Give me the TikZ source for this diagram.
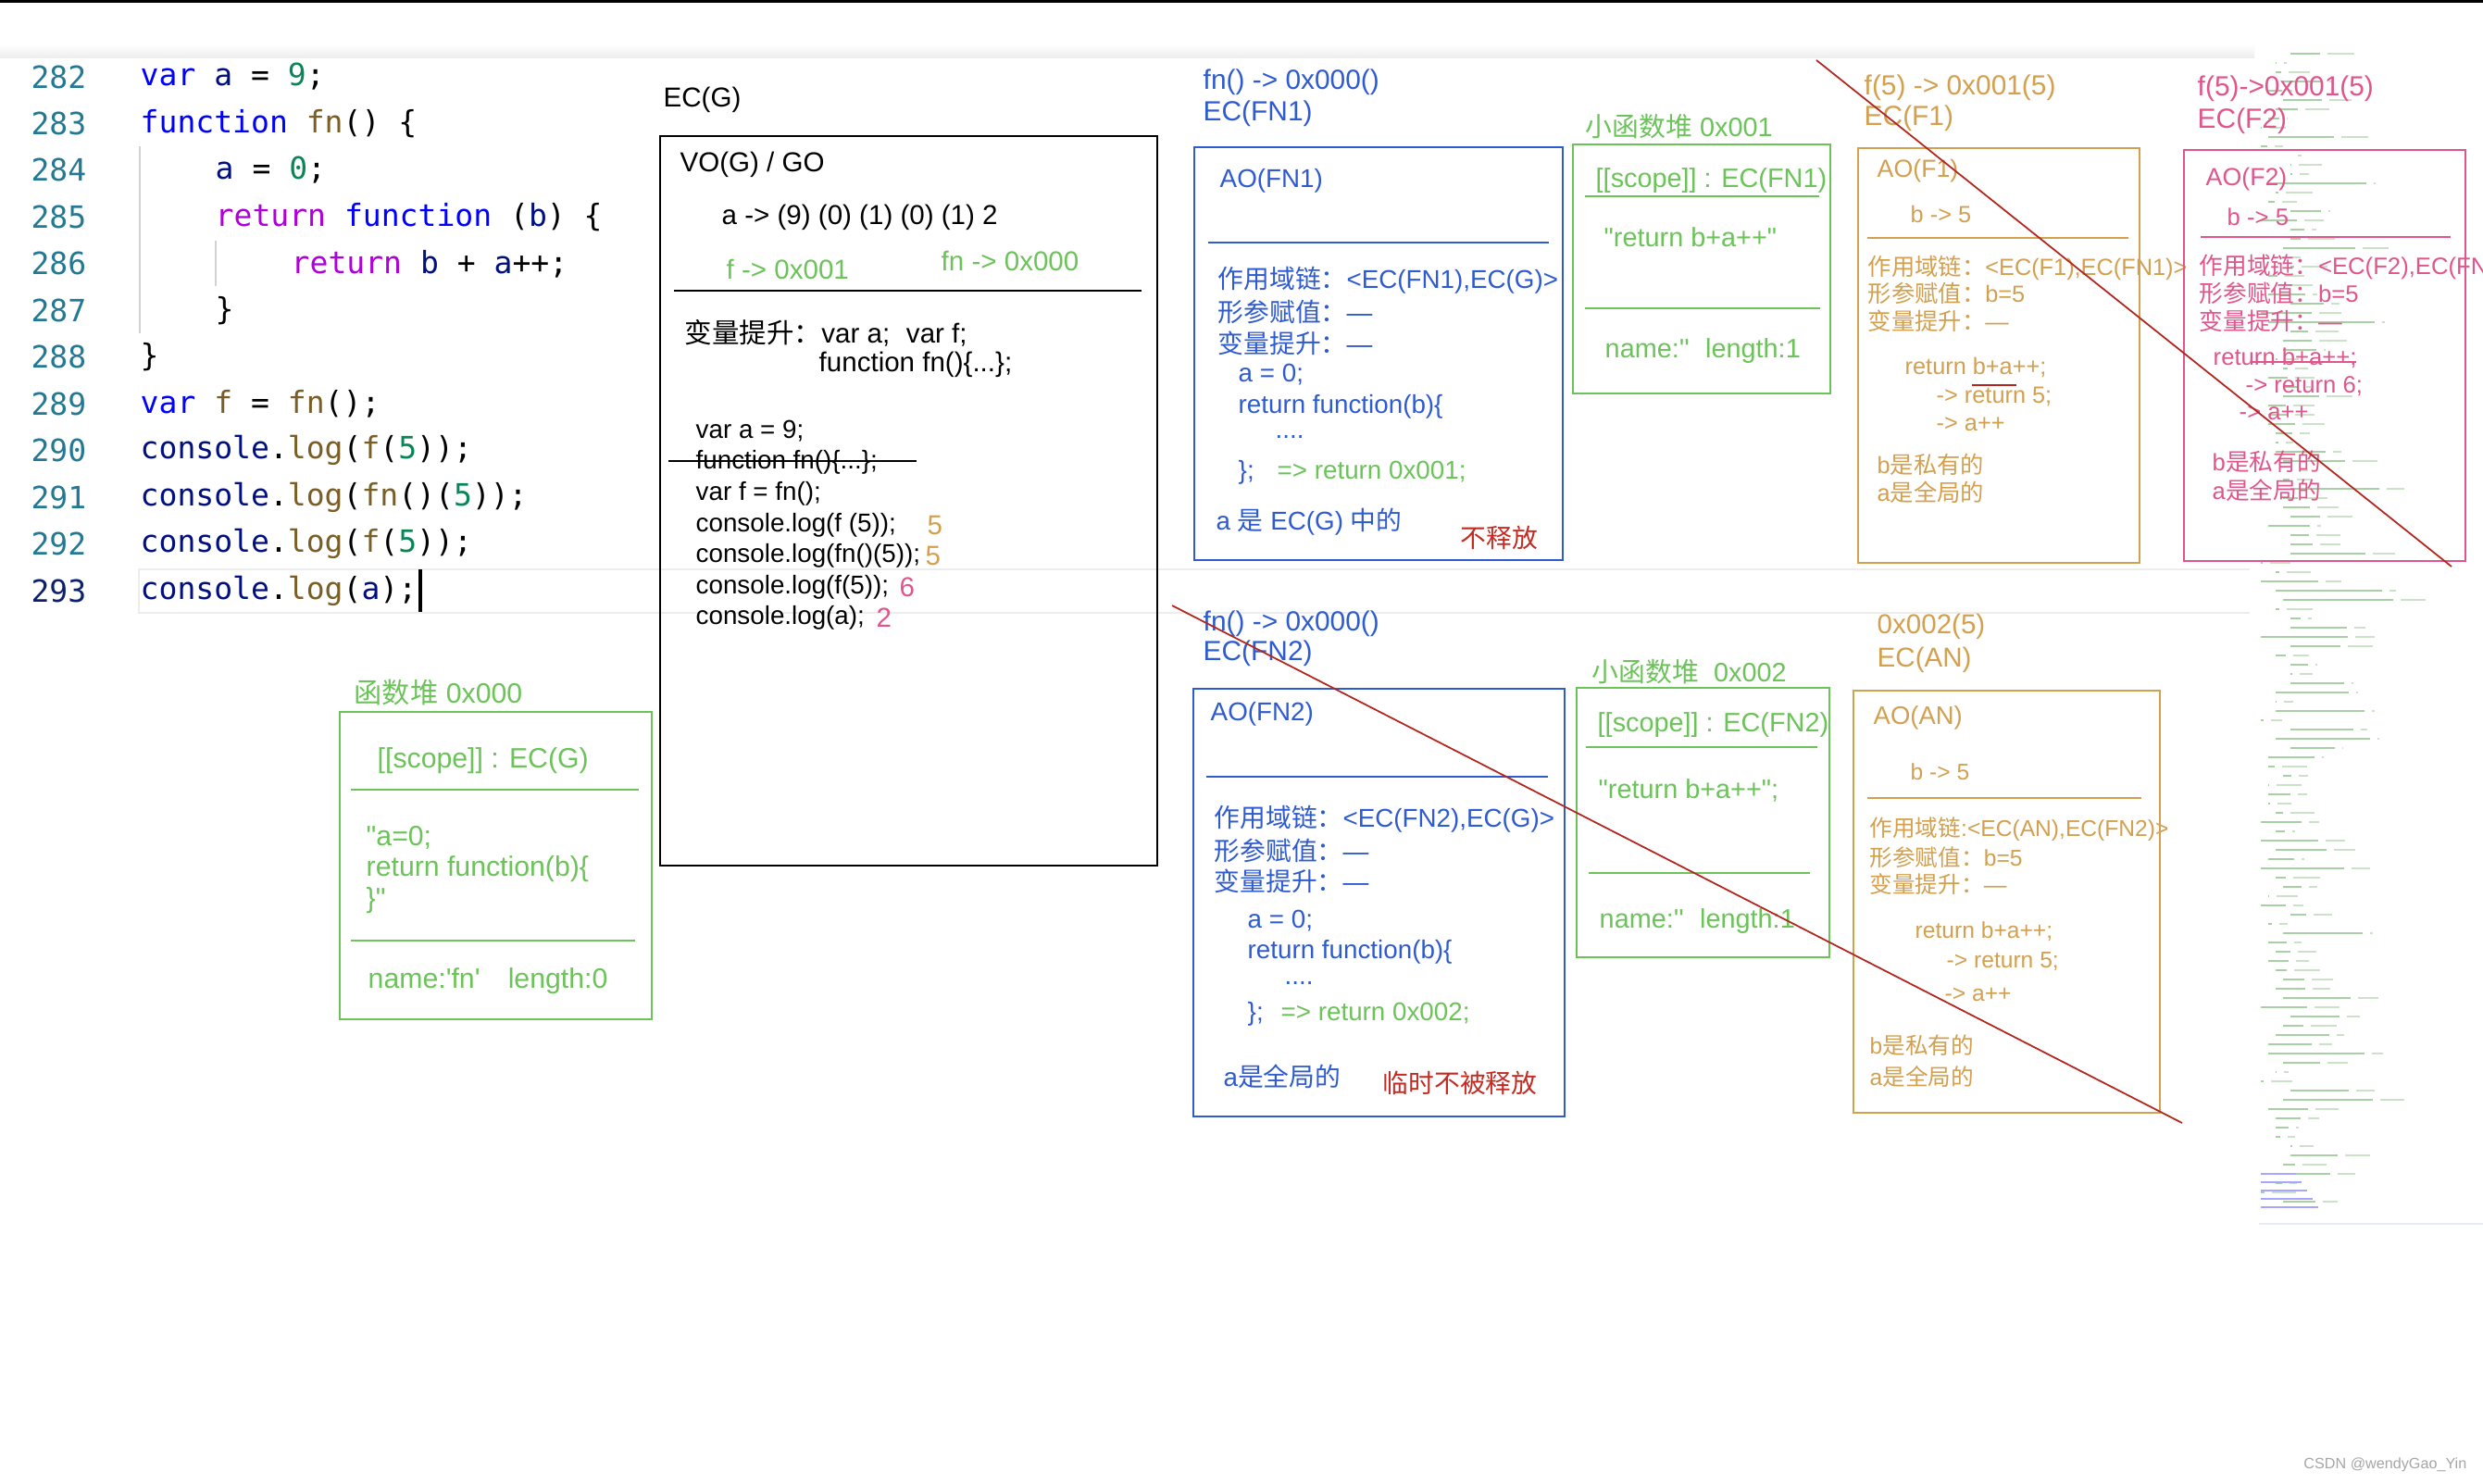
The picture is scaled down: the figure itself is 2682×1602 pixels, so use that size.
\documentclass[tikz,border=0pt]{standalone}
\usepackage{fontspec}
\setmainfont{Liberation Sans}
\setmonofont{DejaVu Sans Mono}
\newfontfamily\cjk{Noto Sans CJK SC}
\newcommand{\zh}[1]{{\cjk #1}}
\definecolor{lnum}{HTML}{237893}
\definecolor{lnact}{HTML}{0B216F}
\definecolor{kwblue}{HTML}{0000FF}
\definecolor{retpurple}{HTML}{AF00DB}
\definecolor{numgreen}{HTML}{098658}
\definecolor{idnavy}{HTML}{001080}
\definecolor{fnbrown}{HTML}{795E26}
\definecolor{hpgreen}{HTML}{6CC35A}
\definecolor{fnblue}{HTML}{2F5BD0}
\definecolor{ecgold}{HTML}{D3A04F}
\definecolor{ecpink}{HTML}{E0558C}
\definecolor{relred}{HTML}{C42B22}
\definecolor{cutred}{HTML}{B3261E}
\definecolor{mapgreen}{HTML}{A9CFA5}
\newcommand{\cKw}[1]{\textcolor{kwblue}{#1}}
\newcommand{\cRet}[1]{\textcolor{retpurple}{#1}}
\newcommand{\cNum}[1]{\textcolor{numgreen}{#1}}
\newcommand{\cId}[1]{\textcolor{idnavy}{#1}}
\newcommand{\cFn}[1]{\textcolor{fnbrown}{#1}}
\newcommand{\qd}{\textquotedbl}
\newcommand{\qs}{\textquotesingle}

\begin{document}
\begin{tikzpicture}[x=0.01cm,y=-0.01cm,
  txt/.style={anchor=west,inner sep=0pt},
  codeln/.style={anchor=west,inner sep=0pt,font=\ttfamily\fontsize{9.4}{11}\selectfont},
  lnno/.style={anchor=east,inner sep=0pt,font=\ttfamily\fontsize{9.4}{11}\selectfont,text=lnum},
  boxline/.style={line width=0.5pt},
  sepline/.style={line width=0.4pt},
  cutline/.style={cutred,line width=0.5pt},
  mapline/.style={mapgreen,line width=0.45pt}]
\fill[white] (0,0) rectangle (2682,1602);
\useasboundingbox (0,0) rectangle (2682,1602);
% editor frame
\fill[black] (0,0) rectangle (2682,3);
\shade[top color=white,bottom color=gray!14] (0,48) rectangle (2435,62);
\draw[gray!14,line width=0.7pt] (2430,615) -- (150,615) -- (150,662) -- (2430,662);
\draw[gray!35,line width=0.3pt] (151,158) -- (151,360);
\draw[gray!35,line width=0.3pt] (233,260) -- (233,309);

% minimap
\pgfmathsetseed{17}
\foreach \r in {0,...,124}{
  \pgfmathsetmacro{\mx}{2442+8*int(rnd*5)}
  \pgfmathsetmacro{\ml}{int(rnd*rnd*140)}
  \pgfmathsetmacro{\mb}{int(rnd*60)}
  \draw[mapline] (\mx,58+10*\r) -- (\mx+\ml,58+10*\r);
  \draw[mapline,opacity=0.6] (\mx+\ml+8,58+10*\r) -- (\mx+\ml+8+\mb*0.5,58+10*\r);
}
\foreach \r in {0,...,4}
  \draw[kwblue!35,line width=0.45pt] (2442,1268+9*\r) -- (2480+6*\r,1268+9*\r);
\draw[fnblue!12,line width=0.6pt] (2440,1322) -- (2682,1322);

% code
\foreach \n [count=\k from 0] in {282,...,292}
  \node[lnno] (ln\n) at (94,83+50.45*\k) {\n};
\node[lnno,text=lnact] (ln293) at (94,638) {293};
\node[codeln] (c282) at (151,83) {\cKw{var} \cId{a} = \cNum{9};};
\node[codeln] (c283) at (151,133.5) {\cKw{function} \cFn{fn}() \{};
\node[codeln] (c284) at (232,184) {\cId{a} = \cNum{0};};
\node[codeln] (c285) at (232,234.4) {\cRet{return} \cKw{function} (\cId{b}) \{};
\node[codeln] (c286) at (314,284.8) {\cRet{return} \cId{b} + \cId{a}++;};
\node[codeln] (c287) at (232,335.3) {\}};
\node[codeln] (c288) at (151,385.7) {\}};
\node[codeln] (c289) at (151,436.2) {\cKw{var} \cFn{f} = \cFn{fn}();};
\node[codeln] (c290) at (151,486.6) {\cId{console}.\cFn{log}(\cFn{f}(\cNum{5}));};
\node[codeln] (c291) at (151,537) {\cId{console}.\cFn{log}(\cFn{fn}()(\cNum{5}));};
\node[codeln] (c292) at (151,587.5) {\cId{console}.\cFn{log}(\cFn{f}(\cNum{5}));};
\node[codeln] (c293) at (151,638) {\cId{console}.\cFn{log}(\cId{a});};
\draw[line width=0.9pt] (c293.east) ++(3,-23) -- ++(0,46);

% EC(G)
\begin{scope}[font=\fontsize{8.4}{10}\selectfont]
\node[txt] (ecg) at (716,108) {EC(G)};
\draw[boxline] (713,147) rectangle (1250,935);
\node[txt] (vog) at (734,178) {VO(G) / GO};
\node[txt] (gva) at (779,235) {a -> (9) (0) (1) (0) (1) 2};
\node[txt,text=hpgreen] (gvf) at (784,291) {f -> 0x001};
\node[txt,text=hpgreen] (gvfn) at (1016,282) {fn -> 0x000};
\draw[sepline] (728,314) -- (1233,314);
\node[txt] (ghoist) at (739,360) {\zh{变量提升：}var a;\hspace{0.6em}var f;};
\node[txt] (ghoistfn) at (884,394) {function fn()\{...\};};
\begin{scope}[font=\fontsize{7.9}{9}\selectfont]
\node[txt] (grun1) at (751,466) {var a = 9;};
\node[txt] (grun2) at (751,499) {function fn()\{...\};};
\draw[sepline] (722,498) -- (990,498);
\node[txt] (grun3) at (751,533) {var f = fn();};
\node[txt] (grun4) at (751,567) {console.log(f (5));};
\node[txt] (grun5) at (751,600) {console.log(fn()(5));};
\node[txt] (grun6) at (751,634) {console.log(f(5));};
\node[txt] (grun7) at (751,667) {console.log(a);};
\end{scope}
\node[txt,text=ecgold] (gout1) at (1001,567) {5};
\node[txt,text=ecgold] (gout2) at (999,600) {5};
\node[txt,text=ecpink] (gout3) at (971,634) {6};
\node[txt,text=ecpink] (gout4) at (946,667) {2};
\end{scope}

% function heap 0x000
\begin{scope}[hpgreen,font=\fontsize{8.6}{10}\selectfont]
\node[txt] (heap0) at (382,748) {\zh{函数堆} 0x000};
\draw[boxline] (367,769) rectangle (704,1101);
\node[txt] (heap0s) at (407,822) {[[scope]] : EC(G)};
\draw[sepline] (379,853) -- (690,853);
\node[txt] (heap0a) at (395,905) {\qd a=0;};
\node[txt] (heap0b) at (395,939) {return function(b)\{};
\node[txt] (heap0c) at (395,973) {\}\qd};
\draw[sepline] (379,1016) -- (686,1016);
\node[txt] (heap0n) at (397,1060) {name:\qs fn\qs\hspace{1em}length:0};
\end{scope}

% EC(FN1)
\begin{scope}[fnblue,font=\fontsize{7.9}{9}\selectfont]
\node[txt,font=\fontsize{8.5}{10}\selectfont] (fnat) at (1299,89) {fn() -> 0x000()};
\node[txt,font=\fontsize{8.5}{10}\selectfont] (fnaec) at (1299,123) {EC(FN1)};
\draw[boxline] (1290,159) rectangle (1688,605);
\node[txt] (fnaao) at (1317,195) {AO(FN1)};
\draw[sepline] (1305,262) -- (1673,262);
\node[txt] (fnasc) at (1315,303) {\zh{作用域链：}<EC(FN1),EC(G)>};
\node[txt] (fnapa) at (1315,337) {\zh{形参赋值：}—};
\node[txt] (fnaho) at (1315,371) {\zh{变量提升：}—};
\node[txt] (fnar1) at (1337,405) {a = 0;};
\node[txt] (fnar2) at (1337,439) {return function(b)\{};
\node[txt] (fnar3) at (1377,472) {....};
\node[txt] (fnar4) at (1337,510) {\};};
\node[txt,text=hpgreen] (fnaret) at (1379,510) {=> return 0x001;};
\node[txt] (fnanote) at (1313,564) {a \zh{是} EC(G) \zh{中的}};
\node[txt,text=relred,font=\fontsize{7.9}{9}\selectfont] (fnakeep) at (1577,581) {\zh{不释放}};
\end{scope}

% small heap 0x001
\begin{scope}[hpgreen,font=\fontsize{8.2}{10}\selectfont]
\node[txt] (heap1) at (1712,137) {\zh{小函数堆} 0x001};
\draw[boxline] (1699,156) rectangle (1977,425);
\node[txt] (heap1s) at (1723,195) {[[scope]] : EC(FN1)};
\draw[sepline] (1712,212) -- (1965,212);
\node[txt] (heap1b) at (1732,256) {\qd return b+a++\qd};
\draw[sepline] (1712,333) -- (1966,333);
\node[txt] (heap1n) at (1733,379) {name:\qs\qs\hspace{0.6em}length:1};
\end{scope}

% EC(F1)
\begin{scope}[ecgold,font=\fontsize{7.2}{9}\selectfont]
\node[txt,font=\fontsize{8.5}{10}\selectfont] (fat) at (2013,95) {f(5) -> 0x001(5)};
\node[txt,font=\fontsize{8.5}{10}\selectfont] (faec) at (2013,128) {EC(F1)};
\draw[boxline] (2007,160) rectangle (2311,608);
\node[txt,font=\fontsize{7.6}{9}\selectfont] (faao) at (2027,185) {AO(F1)};
\node[txt] (fab) at (2063,231) {b -> 5};
\draw[sepline] (2017,257) -- (2299,257);
\node[txt] (fasc) at (2017,289) {\zh{作用域链：}<EC(F1),EC(FN1)>};
\node[txt] (fapa) at (2017,317) {\zh{形参赋值：}b=5};
\node[txt] (faho) at (2017,347) {\zh{变量提升：}—};
\node[txt] (far1) at (2057,397) {return b+a++;};
\draw[cutline] (2130,416) -- (2178,416);
\node[txt] (far2) at (2091,428) {-> return 5;};
\node[txt] (far3) at (2091,458) {-> a++};
\node[txt] (fanb) at (2027,502) {b\zh{是私有的}};
\node[txt] (fana) at (2027,532) {a\zh{是全局的}};
\end{scope}

% EC(F2)
\begin{scope}[ecpink,font=\fontsize{7.3}{9}\selectfont]
\node[txt,font=\fontsize{8.5}{10}\selectfont] (fbt) at (2373,96) {f(5)->0x001(5)};
\node[txt,font=\fontsize{8.5}{10}\selectfont] (fbec) at (2373,131) {EC(F2)};
\draw[boxline] (2359,162) rectangle (2663,606);
\node[txt,font=\fontsize{7.6}{9}\selectfont] (fbao) at (2382,194) {AO(F2)};
\node[txt] (fbb) at (2405,234) {b -> 5};
\draw[sepline] (2377,256) -- (2647,256);
\node[txt] (fbsc) at (2375,288) {\zh{作用域链：}<EC(F2),EC(FN1)>};
\node[txt] (fbpa) at (2375,317) {\zh{形参赋值：}b=5};
\node[txt] (fbho) at (2375,347) {\zh{变量提升：}—};
\node[txt] (fbr1) at (2390,387) {return b+a++;};
\draw[sepline] (2432,391) -- (2545,391);
\node[txt] (fbr2) at (2425,417) {-> return 6;};
\node[txt] (fbr3) at (2418,446) {-> a++};
\node[txt] (fbnb) at (2389,499) {b\zh{是私有的}};
\node[txt] (fbna) at (2389,530) {a\zh{是全局的}};
\end{scope}

% EC(FN2)
\begin{scope}[fnblue,font=\fontsize{7.9}{9}\selectfont]
\node[txt,font=\fontsize{8.5}{10}\selectfont] (fnbt) at (1299,674) {fn() -> 0x000()};
\node[txt,font=\fontsize{8.5}{10}\selectfont] (fnbec) at (1299,706) {EC(FN2)};
\draw[boxline] (1289,744) rectangle (1690,1206);
\node[txt] (fnbao) at (1307,771) {AO(FN2)};
\draw[sepline] (1303,839) -- (1672,839);
\node[txt] (fnbsc) at (1311,885) {\zh{作用域链：}<EC(FN2),EC(G)>};
\node[txt] (fnbpa) at (1311,919) {\zh{形参赋值：}—};
\node[txt] (fnbho) at (1311,952) {\zh{变量提升：}—};
\node[txt] (fnbr1) at (1347,995) {a = 0;};
\node[txt] (fnbr2) at (1347,1028) {return function(b)\{};
\node[txt] (fnbr3) at (1387,1062) {....};
\node[txt] (fnbr4) at (1347,1095) {\};};
\node[txt,text=hpgreen] (fnbret) at (1383,1095) {=> return 0x002;};
\node[txt] (fnbnote) at (1321,1163) {a\zh{是全局的}};
\node[txt,text=relred,font=\fontsize{7.9}{9}\selectfont] (fnbkeep) at (1493,1170) {\zh{临时不被释放}};
\end{scope}

% small heap 0x002
\begin{scope}[hpgreen,font=\fontsize{8.2}{10}\selectfont]
\node[txt] (heap2) at (1719,726) {\zh{小函数堆}\ \ 0x002};
\draw[boxline] (1703,743) rectangle (1976,1034);
\node[txt] (heap2s) at (1725,783) {[[scope]] : EC(FN2)};
\draw[sepline] (1713,807) -- (1963,807);
\node[txt] (heap2b) at (1726,854) {\qd return b+a++\qd;};
\draw[sepline] (1716,943) -- (1955,943);
\node[txt] (heap2n) at (1727,995) {name:\qs\qs\hspace{0.6em}length:1};
\end{scope}

% EC(AN)
\begin{scope}[ecgold,font=\fontsize{7}{9}\selectfont]
\node[txt,font=\fontsize{8.4}{10}\selectfont] (ant) at (2027,677) {0x002(5)};
\node[txt,font=\fontsize{8.4}{10}\selectfont] (anec) at (2027,713) {EC(AN)};
\draw[boxline] (2002,746) rectangle (2333,1202);
\node[txt,font=\fontsize{7.8}{9}\selectfont] (anao) at (2023,775) {AO(AN)};
\node[txt] (anb) at (2063,834) {b -> 5};
\draw[sepline] (2017,862) -- (2313,862);
\node[txt] (ansc) at (2019,896) {\zh{作用域链}:<EC(AN),EC(FN2)>};
\node[txt] (anpa) at (2019,926) {\zh{形参赋值：}b=5};
\node[txt] (anho) at (2019,955) {\zh{变量提升：}—};
\node[txt] (anr1) at (2068,1006) {return b+a++;};
\node[txt] (anr2) at (2102,1039) {-> return 5;};
\node[txt] (anr3) at (2100,1074) {-> a++};
\node[txt] (annb) at (2019,1129) {b\zh{是私有的}};
\node[txt] (anna) at (2019,1163) {a\zh{是全局的}};
\end{scope}

% crossed out
\draw[cutline] (1962,65) -- (2648,612);
\draw[cutline] (1266,654) -- (2357,1213);

\node[anchor=east,inner sep=0pt,text=gray!70,font=\fontsize{4.6}{6}\selectfont] (mark) at (2665,1582) {CSDN @wendyGao\_Yin};
\end{tikzpicture}
\end{document}
